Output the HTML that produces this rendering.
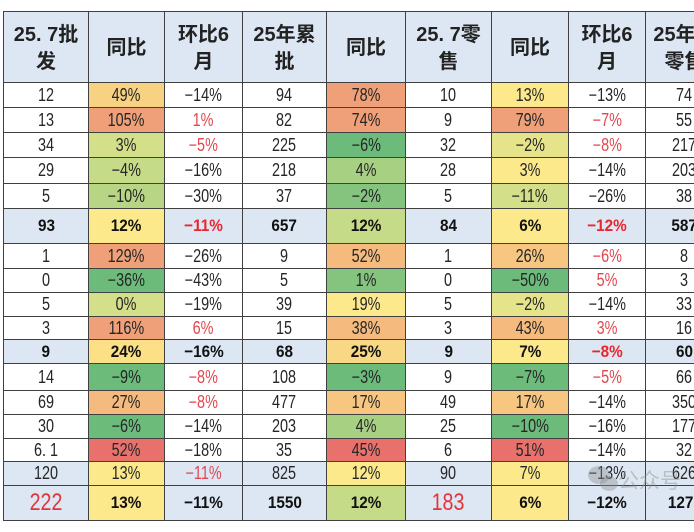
<!DOCTYPE html>
<html><head><meta charset="utf-8">
<style>
html,body{margin:0;padding:0;background:#fff;}
body{width:694px;height:532px;overflow:hidden;position:relative;}
.g{position:absolute;left:3px;top:11px;display:grid;background:#404040;padding:1px;gap:1px;
grid-template-columns:84px 75px 77px 83px 78px 85px 76px 76px 77px;
grid-template-rows:70px 24px 24px 24px 25px 24px 34px 24px 23px 23px 22px 23px 26px 23px 23px 22px 23px 34px;}
.rw{display:contents;}
.h{background:#dde7f3;display:flex;align-items:center;justify-content:center;text-align:center;
font-family:"Liberation Sans","Noto Sans CJK SC",sans-serif;font-weight:bold;font-size:20px;line-height:27px;color:#222;padding-top:3px;box-sizing:border-box;white-space:nowrap;overflow:hidden;}
.rw>div{background:#fff;display:flex;align-items:center;justify-content:center;white-space:nowrap;overflow:hidden;
font-family:"Liberation Sans",sans-serif;font-size:18px;color:#262626;}
.rw>div>span{display:inline-block;transform:scaleX(.8);}
.s>div{background:#dde7f3;font-weight:bold;font-size:17px;color:#111;}
.s>div>span{transform:scaleX(.9);}
.t>div{background:#dde7f3;}
.g .r{color:#e2474f;}
.g .br{color:#e8262e;}
.g .big{color:#e0353a;font-weight:normal;font-size:24px;}
.g .big>span{transform:scaleX(.82);}
.g .o1{background:#f0a078;}
.g .o2{background:#f5ba7d;}
.g .o2b{background:#f7c781;}
.g .o3{background:#f8d283;}
.g .y{background:#fce98b;}
.g .y2{background:#fbe087;}
.g .y3{background:#f9d885;}
.g .yg1{background:#e6e48b;}
.g .yg2{background:#d3df89;}
.g .yg3{background:#c6db87;}
.g .yg4{background:#b8d585;}
.g .g1{background:#a7d083;}
.g .g2{background:#84c47e;}
.g .g3{background:#6cbb7a;}
.g .rd{background:#e8716c;}
.wm{position:absolute;left:618px;top:468px;font-family:"Noto Sans CJK SC",sans-serif;font-size:21px;color:rgba(140,140,140,0.45);line-height:24px;}
.ic1{position:absolute;left:588px;top:466px;width:22px;height:18px;border-radius:50%;background:rgba(140,140,140,0.4);}
.ic2{position:absolute;left:600px;top:476px;width:18px;height:15px;border-radius:50%;background:rgba(140,140,140,0.4);}
</style></head><body>
<div class="g">
<div class="h">25. 7批<br>发</div>
<div class="h">同比</div>
<div class="h">环比6<br>月</div>
<div class="h">25年累<br>批</div>
<div class="h">同比</div>
<div class="h">25. 7零<br>售</div>
<div class="h">同比</div>
<div class="h">环比6<br>月</div>
<div class="h">25年累<br>零售</div>

<div class="rw"><div><span>12</span></div><div class="o3"><span>49%</span></div><div><span>−14%</span></div><div><span>94</span></div><div class="o1"><span>78%</span></div><div><span>10</span></div><div class="y"><span>13%</span></div><div><span>−13%</span></div><div><span>74</span></div></div>
<div class="rw"><div><span>13</span></div><div class="o1"><span>105%</span></div><div class="r"><span>1%</span></div><div><span>82</span></div><div class="o1"><span>74%</span></div><div><span>9</span></div><div class="o1"><span>79%</span></div><div class="r"><span>−7%</span></div><div><span>55</span></div></div>
<div class="rw"><div><span>34</span></div><div class="yg2"><span>3%</span></div><div class="r"><span>−5%</span></div><div><span>225</span></div><div class="g3"><span>−6%</span></div><div><span>32</span></div><div class="yg1"><span>−2%</span></div><div class="r"><span>−8%</span></div><div><span>217</span></div></div>
<div class="rw"><div><span>29</span></div><div class="yg3"><span>−4%</span></div><div><span>−16%</span></div><div><span>218</span></div><div class="g1"><span>4%</span></div><div><span>28</span></div><div class="y"><span>3%</span></div><div><span>−14%</span></div><div><span>203</span></div></div>
<div class="rw"><div><span>5</span></div><div class="yg4"><span>−10%</span></div><div><span>−30%</span></div><div><span>37</span></div><div class="g2"><span>−2%</span></div><div><span>5</span></div><div class="yg2"><span>−11%</span></div><div><span>−26%</span></div><div><span>38</span></div></div>
<div class="rw s"><div><span>93</span></div><div class="y"><span>12%</span></div><div class="br"><span>−11%</span></div><div><span>657</span></div><div class="yg3"><span>12%</span></div><div><span>84</span></div><div class="y"><span>6%</span></div><div class="br"><span>−12%</span></div><div><span>587</span></div></div>
<div class="rw"><div><span>1</span></div><div class="o1"><span>129%</span></div><div><span>−26%</span></div><div><span>9</span></div><div class="o2"><span>52%</span></div><div><span>1</span></div><div class="o2b"><span>26%</span></div><div class="r"><span>−6%</span></div><div><span>8</span></div></div>
<div class="rw"><div><span>0</span></div><div class="g3"><span>−36%</span></div><div><span>−43%</span></div><div><span>5</span></div><div class="g2"><span>1%</span></div><div><span>0</span></div><div class="g3"><span>−50%</span></div><div class="r"><span>5%</span></div><div><span>3</span></div></div>
<div class="rw"><div><span>5</span></div><div class="yg2"><span>0%</span></div><div><span>−19%</span></div><div><span>39</span></div><div class="y"><span>19%</span></div><div><span>5</span></div><div class="yg1"><span>−2%</span></div><div><span>−14%</span></div><div><span>33</span></div></div>
<div class="rw"><div><span>3</span></div><div class="o1"><span>116%</span></div><div class="r"><span>6%</span></div><div><span>15</span></div><div class="o2"><span>38%</span></div><div><span>3</span></div><div class="o2"><span>43%</span></div><div class="r"><span>3%</span></div><div><span>16</span></div></div>
<div class="rw s"><div><span>9</span></div><div class="y2"><span>24%</span></div><div><span>−16%</span></div><div><span>68</span></div><div class="y3"><span>25%</span></div><div><span>9</span></div><div class="y"><span>7%</span></div><div class="br"><span>−8%</span></div><div><span>60</span></div></div>
<div class="rw"><div><span>14</span></div><div class="g3"><span>−9%</span></div><div class="r"><span>−8%</span></div><div><span>108</span></div><div class="g3"><span>−3%</span></div><div><span>9</span></div><div class="g3"><span>−7%</span></div><div class="r"><span>−5%</span></div><div><span>66</span></div></div>
<div class="rw"><div><span>69</span></div><div class="o2"><span>27%</span></div><div class="r"><span>−8%</span></div><div><span>477</span></div><div class="o2b"><span>17%</span></div><div><span>49</span></div><div class="o2b"><span>17%</span></div><div><span>−14%</span></div><div><span>350</span></div></div>
<div class="rw"><div><span>30</span></div><div class="g3"><span>−6%</span></div><div><span>−14%</span></div><div><span>203</span></div><div class="g1"><span>4%</span></div><div><span>25</span></div><div class="g3"><span>−10%</span></div><div><span>−16%</span></div><div><span>177</span></div></div>
<div class="rw"><div><span>6. 1</span></div><div class="rd"><span>52%</span></div><div><span>−18%</span></div><div><span>35</span></div><div class="rd"><span>45%</span></div><div><span>6</span></div><div class="rd"><span>51%</span></div><div><span>−14%</span></div><div><span>32</span></div></div>
<div class="rw t"><div><span>120</span></div><div class="y"><span>13%</span></div><div class="r"><span>−11%</span></div><div><span>825</span></div><div class="y"><span>12%</span></div><div><span>90</span></div><div class="y"><span>7%</span></div><div><span>−13%</span></div><div><span>626</span></div></div>
<div class="rw s"><div class="big"><span>222</span></div><div class="y"><span>13%</span></div><div><span>−11%</span></div><div><span>1550</span></div><div class="yg3"><span>12%</span></div><div class="big"><span>183</span></div><div class="y"><span>6%</span></div><div><span>−12%</span></div><div><span>1275</span></div></div>
</div>
<div class="ic1"></div><div class="ic2"></div>
<div class="wm">公众号</div>
</body></html>
